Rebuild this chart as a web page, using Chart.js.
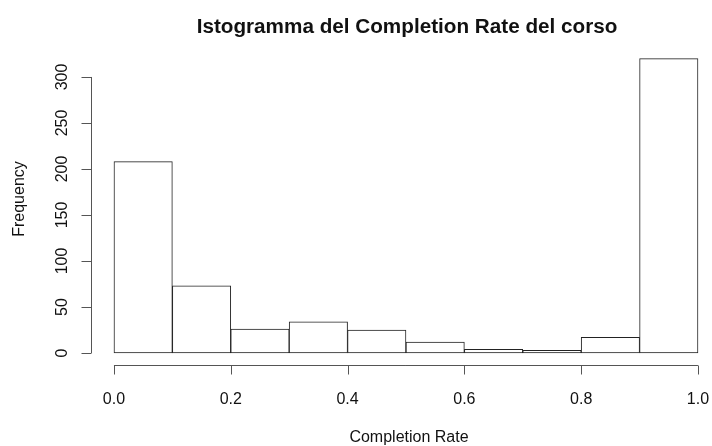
<!DOCTYPE html>
<html>
<head>
<meta charset="utf-8">
<script src="https://cdn.jsdelivr.net/npm/chart.js@4"></script>
<style>
  html, body { margin: 0; padding: 0; background: #fff; }
  #wrap { width: 712px; height: 446px; }
</style>
</head>
<body>
<div id="wrap"><canvas id="hist-chart" width="712" height="446"></canvas></div>
<script>
// Histogram data (bin edges and counts per bin)
const breaks = [0, 0.1, 0.2, 0.3, 0.4, 0.5, 0.6, 0.7, 0.8, 0.9, 1.0];
const counts = [208, 73, 26, 34, 25, 12, 4, 3, 17, 320];
const xTicks = [0, 0.2, 0.4, 0.6, 0.8, 1.0];
const yTicks = [0, 50, 100, 150, 200, 250, 300];

const titleText = 'Istogramma del Completion Rate del corso';
const xLabel = 'Completion Rate';
const yLabel = 'Frequency';

const FONT = '"Liberation Sans", Arial, Helvetica, sans-serif';

// bars placed at the middle of each bin on a linear x scale
const barData = counts.map(function(c, i) {
  return { x: (breaks[i] + breaks[i + 1]) / 2, y: c };
});

// R-style axes, title and labels drawn with the chart's own scales
const rAxes = {
  id: 'rAxes',
  afterDraw: function(chart) {
    const ctx = chart.ctx;
    const area = chart.chartArea;
    const xs = chart.scales.x;
    const ys = chart.scales.y;
    ctx.save();
    ctx.strokeStyle = '#555';
    ctx.lineWidth = 1;
    ctx.fillStyle = '#111';

    // x axis
    const xb = Math.round(area.bottom) + 0.5;
    ctx.beginPath();
    ctx.moveTo(xs.getPixelForValue(xTicks[0]), xb);
    ctx.lineTo(xs.getPixelForValue(xTicks[xTicks.length - 1]), xb);
    xTicks.forEach(function(v) {
      const px = Math.round(xs.getPixelForValue(v)) + 0.5;
      ctx.moveTo(px, xb);
      ctx.lineTo(px, xb + 9);
    });
    ctx.stroke();
    ctx.font = '16px ' + FONT;
    ctx.textAlign = 'center';
    ctx.textBaseline = 'alphabetic';
    xTicks.forEach(function(v) {
      ctx.fillText(v.toFixed(1), xs.getPixelForValue(v), xb + 38);
    });

    // y axis
    const yl = Math.round(area.left) + 0.5;
    ctx.beginPath();
    ctx.moveTo(yl, ys.getPixelForValue(yTicks[0]));
    ctx.lineTo(yl, ys.getPixelForValue(yTicks[yTicks.length - 1]));
    yTicks.forEach(function(v) {
      const py = Math.round(ys.getPixelForValue(v)) + 0.5;
      ctx.moveTo(yl, py);
      ctx.lineTo(yl - 10, py);
    });
    ctx.stroke();
    yTicks.forEach(function(v) {
      ctx.save();
      ctx.translate(yl - 25, ys.getPixelForValue(v));
      ctx.rotate(-Math.PI / 2);
      ctx.fillText(String(v), 0, 0);
      ctx.restore();
    });

    // title and axis titles
    ctx.font = 'bold 20.7px ' + FONT;
    ctx.fillText(titleText, 407, 33);
    ctx.font = '16px ' + FONT;
    ctx.fillText(xLabel, 409, 442);
    ctx.save();
    ctx.translate(24, 199);
    ctx.rotate(-Math.PI / 2);
    ctx.fillText(yLabel, 0, 0);
    ctx.restore();
    ctx.restore();
  }
};

new Chart(document.getElementById('hist-chart'), {
  type: 'bar',
  data: {
    datasets: [{
      label: 'Frequency',
      data: barData,
      backgroundColor: '#ffffff',
      borderColor: '#222222',
      borderWidth: 1,
      borderSkipped: false,
      barPercentage: 1.0,
      categoryPercentage: 1.0
    }]
  },
  options: {
    responsive: false,
    animation: false,
    layout: { padding: { left: 90.6, right: 0, top: 46.8, bottom: 81.2 } },
    plugins: {
      legend: { display: false },
      title: { display: false },
      tooltip: { enabled: false }
    },
    scales: {
      x: {
        type: 'linear',
        offset: false,
        min: -0.04,
        max: 1.024,
        display: false
      },
      y: {
        min: -12.8,
        max: 332.8,
        display: false
      }
    }
  },
  plugins: [rAxes]
});
</script>
</body>
</html>
